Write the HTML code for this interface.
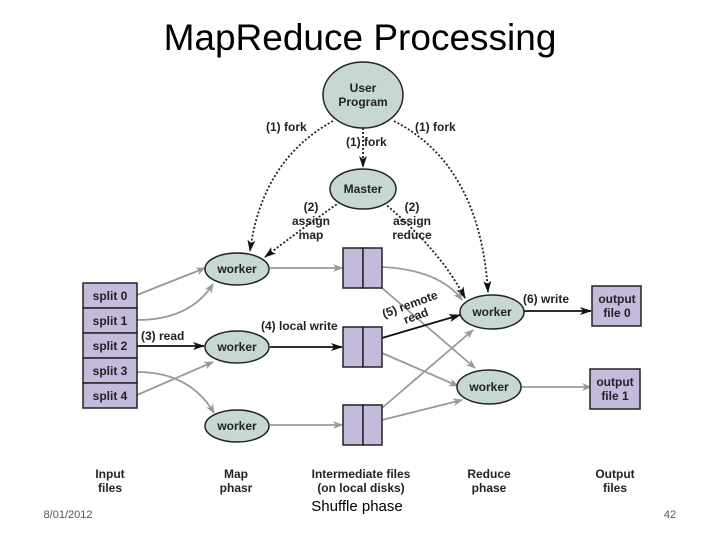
<!DOCTYPE html>
<html><head><meta charset="utf-8"><style>
body{margin:0;background:#fff;}
svg{display:block;font-family:"Liberation Sans",sans-serif;}
.b{font-weight:bold;font-size:12px;fill:#222;}
.l{font-size:12px;fill:#222;font-weight:bold;}
</style></head><body>
<svg width="720" height="540" viewBox="0 0 720 540" xmlns="http://www.w3.org/2000/svg">
<defs>
<marker id="ag" markerWidth="10" markerHeight="8" refX="9" refY="4" orient="auto" markerUnits="userSpaceOnUse"><path d="M0,0 L10,4 L0,8 L3,4z" fill="#999"/></marker>
<marker id="ak" markerWidth="12" markerHeight="8" refX="11" refY="4" orient="auto" markerUnits="userSpaceOnUse"><path d="M0,0 L12,4 L0,8 L3,4z" fill="#111"/></marker>
</defs>
<text x="360" y="50" text-anchor="middle" font-size="37" fill="#000" font-family="Liberation Sans,sans-serif">MapReduce Processing</text>
<g fill="none" stroke-width="1.8">
<path d="M333,121 Q262,160 250,251" stroke="#222" stroke-dasharray="2,2" marker-end="url(#ak)"/>
<path d="M394,121 Q480,165 488,292" stroke="#222" stroke-dasharray="2,2" marker-end="url(#ak)"/>
<path d="M363,128 L363,167" stroke="#222" stroke-dasharray="2,2" marker-end="url(#ak)"/>
<path d="M340,202 Q300,230 265,257" stroke="#222" stroke-dasharray="2,2" marker-end="url(#ak)"/>
<path d="M384,203 Q440,250 465,298" stroke="#222" stroke-dasharray="2,2" marker-end="url(#ak)"/>
<path d="M137,295 L205,268" stroke="#999" marker-end="url(#ag)"/>
<path d="M137,320 Q190,320 213,284" stroke="#999" marker-end="url(#ag)"/>
<path d="M137,346 L204,346" stroke="#111" marker-end="url(#ak)"/>
<path d="M137,372 Q190,372 214,413" stroke="#999" marker-end="url(#ag)"/>
<path d="M137,395 L213,362" stroke="#999" marker-end="url(#ag)"/>
<path d="M270,268 L342,268" stroke="#999" marker-end="url(#ag)"/>
<path d="M270,347 L342,347" stroke="#111" marker-end="url(#ak)"/>
<path d="M270,425 L342,425" stroke="#999" marker-end="url(#ag)"/>
<path d="M382,267 Q440,270 462,300" stroke="#999" marker-end="url(#ag)"/>
<path d="M382,288 L475,368" stroke="#999" marker-end="url(#ag)"/>
<path d="M382,338 L460,315" stroke="#111" marker-end="url(#ak)"/>
<path d="M382,353 L458,386" stroke="#999" marker-end="url(#ag)"/>
<path d="M382,408 L473,330" stroke="#999" marker-end="url(#ag)"/>
<path d="M382,420 L462,400" stroke="#999" marker-end="url(#ag)"/>
<path d="M524,311 L591,311" stroke="#111" marker-end="url(#ak)"/>
<path d="M521,387 L591,387" stroke="#999" marker-end="url(#ag)"/>
</g>
<g stroke="#222" stroke-width="1.5" fill="#c6d8d0">
<ellipse cx="363" cy="95" rx="40" ry="33"/>
<ellipse cx="363" cy="189" rx="33" ry="20"/>
<ellipse cx="237" cy="269" rx="32" ry="16"/>
<ellipse cx="237" cy="347" rx="32" ry="16"/>
<ellipse cx="237" cy="426" rx="32" ry="16"/>
<ellipse cx="492" cy="312" rx="32" ry="17"/>
<ellipse cx="489" cy="387" rx="32" ry="17"/>
</g>
<g stroke="#222" stroke-width="1.5" fill="#c4badc">
<rect x="83" y="283" width="54" height="25"/><rect x="83" y="308" width="54" height="25"/>
<rect x="83" y="333" width="54" height="25"/><rect x="83" y="358" width="54" height="25"/>
<rect x="83" y="383" width="54" height="25"/>
<rect x="343" y="248" width="20" height="40"/><rect x="363" y="248" width="19" height="40"/>
<rect x="343" y="327" width="20" height="40"/><rect x="363" y="327" width="19" height="40"/>
<rect x="343" y="405" width="20" height="40"/><rect x="363" y="405" width="19" height="40"/>
<rect x="592" y="286" width="49" height="40"/>
<rect x="590" y="369" width="50" height="40"/>
</g>
<g class="b" text-anchor="middle">
<text x="363" y="92">User</text><text x="363" y="106">Program</text>
<text x="363" y="193">Master</text>
<text x="237" y="273">worker</text><text x="237" y="351">worker</text><text x="237" y="430">worker</text>
<text x="492" y="316">worker</text><text x="489" y="391">worker</text>
<text x="110" y="300">split 0</text><text x="110" y="325">split 1</text><text x="110" y="350">split 2</text>
<text x="110" y="375">split 3</text><text x="110" y="400">split 4</text>
<text x="617" y="303">output</text><text x="617" y="317">file 0</text>
<text x="615" y="386">output</text><text x="615" y="400">file 1</text>
<text x="110" y="478">Input</text><text x="110" y="492">files</text>
<text x="236" y="478">Map</text><text x="236" y="492">phasr</text>
<text x="361" y="478">Intermediate files</text><text x="361" y="492">(on local disks)</text>
<text x="489" y="478">Reduce</text><text x="489" y="492">phase</text>
<text x="615" y="478">Output</text><text x="615" y="492">files</text>
</g>
<g class="l">
<text x="266" y="131">(1) fork</text>
<text x="415" y="131">(1) fork</text>
<text x="346" y="146">(1) fork</text>
<text x="311" y="211" text-anchor="middle">(2)</text><text x="311" y="225" text-anchor="middle">assign</text><text x="311" y="239" text-anchor="middle">map</text>
<text x="412" y="211" text-anchor="middle">(2)</text><text x="412" y="225" text-anchor="middle">assign</text><text x="412" y="239" text-anchor="middle">reduce</text>
<text x="141" y="340">(3) read</text>
<text x="261" y="330">(4) local write</text>
<text x="523" y="303">(6) write</text>
<g transform="translate(384,318) rotate(-20)"><text x="0" y="0">(5) remote</text><text x="18" y="13">read</text></g>
</g>
<text x="68" y="518" text-anchor="middle" font-size="11" fill="#555">8/01/2012</text>
<text x="357" y="511" text-anchor="middle" font-size="15" fill="#000">Shuffle phase</text>
<text x="670" y="518" text-anchor="middle" font-size="11" fill="#555">42</text>
</svg>
</body></html>
